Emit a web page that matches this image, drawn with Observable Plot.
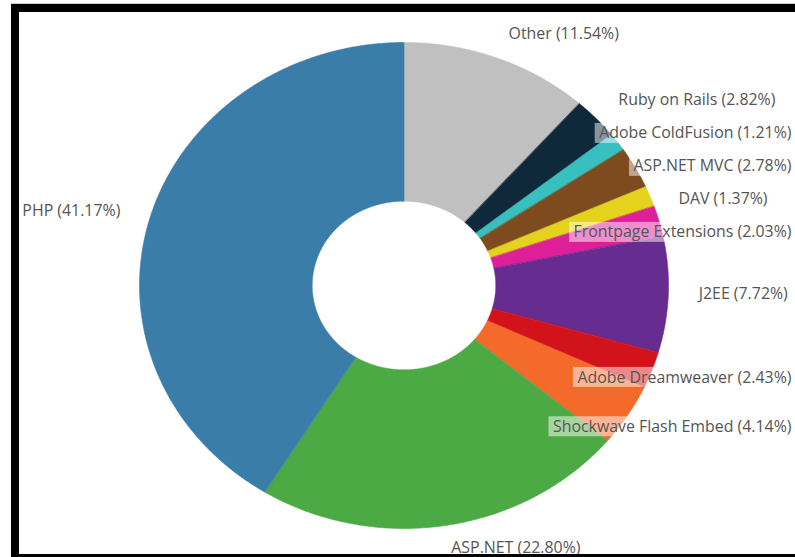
<!DOCTYPE html>
<html>
<head>
<meta charset="utf-8">
<script src="https://cdn.jsdelivr.net/npm/d3@7"></script>
<script src="https://cdn.jsdelivr.net/npm/@observablehq/plot@0.6"></script>
<style>
  html, body { margin: 0; padding: 0; background: #fff; overflow: hidden; }
  #wrap { position: relative; width: 795px; height: 557px; }
  #frame { position: absolute; left: 11px; top: 4px; width: 800px; height: 542px;
           border-top: 8px solid #000; border-left: 8px solid #000; border-bottom: 8px solid #000;
           box-shadow: 0 -1px 0 #ccc; pointer-events: none; }
  #chart { position: absolute; left: 0; top: 0; }
</style>
</head>
<body>
<div id="wrap"><div id="chart"></div><div id="frame"></div></div>
<script>
// ---- data ----
const names = ["Other", "Ruby on Rails", "Adobe ColdFusion", "ASP.NET MVC", "DAV",
  "Frontpage Extensions", "J2EE", "Adobe Dreamweaver", "Shockwave Flash Embed", "ASP.NET", "PHP"];
const shares = [11.54, 2.82, 1.21, 2.78, 1.37, 2.03, 7.72, 2.43, 4.14, 22.80, 41.17];
const colors = ["#c0c0c0", "#10293a", "#38c0c0", "#7d4b1e", "#e3d31c",
  "#dd1f98", "#662c90", "#d3131b", "#f36a2a", "#4caa45", "#3b7da9"];

// ---- layout ----
const W = 795, H = 557;
const cx = 403.5, cy = 285, rx = 264.5, ry = 243;
const inner = 0.347;
const labelRX = 1.115, labelRY = 1.1, labelDY = -1.5;
const gap = 33, rightEdge = 791;
const fontSize = 15.9, fontFamily = "Open Sans";

const total = d3.sum(shares);
const ctx = document.createElement("canvas").getContext("2d");
ctx.font = `${fontSize}px "${fontFamily}"`;

// slice polygons (unit-circle data space)
const pts = [];
let cum = 0;
const slices = names.map((name, i) => {
  const a0 = cum / total * 2 * Math.PI;
  cum += shares[i];
  const a1 = cum / total * 2 * Math.PI;
  return {name, i, a0, a1, mid: (a0 + a1) / 2};
});
for (const s of slices) {
  const n = Math.max(2, Math.ceil((s.a1 - s.a0) / 0.005));
  for (let k = 0; k <= n; k++) {
    const a = s.a0 + (s.a1 - s.a0) * k / n;
    pts.push({name: s.name, x: Math.sin(a), y: Math.cos(a)});
  }
  for (let k = n; k >= 0; k--) {
    const a = s.a0 + (s.a1 - s.a0) * k / n;
    pts.push({name: s.name, x: inner * Math.sin(a), y: inner * Math.cos(a)});
  }
}

// scale helpers (mirror of the Plot scales below)
const xs = d3.scaleLinear().domain([-1, 1]).range([cx - rx, cx + rx]);
const ys = d3.scaleLinear().domain([-1, 1]).range([cy + ry, cy - ry]);

// labels
const labels = slices.map(s => {
  const text = `${s.name} (${shares[s.i].toFixed(2)}%)`;
  const w = ctx.measureText(text).width;
  const right = Math.sin(s.mid) >= 0;
  let px = cx + labelRX * rx * Math.sin(s.mid);
  let py = cy + labelDY - labelRY * ry * Math.cos(s.mid);
  return {text, w, right, px, py, name: s.name};
});
// vertical collision avoidance on the right side
let prev = -Infinity;
for (const l of labels) {
  if (!l.right) continue;
  if (l.py < prev + gap) l.py = prev + gap;
  prev = l.py;
}
for (const l of labels) {
  if (l.right) {
    l.px = Math.min(l.px, rightEdge - l.w);
    l.x0 = l.px; l.x1 = l.px + l.w;
  } else {
    l.x0 = l.px - l.w; l.x1 = l.px;
  }
  l.lx = xs.invert(l.px); l.ly = ys.invert(l.py);
  l.bx1 = xs.invert(l.x0 - 4); l.bx2 = xs.invert(l.x1 + 4);
  l.by1 = ys.invert(l.py - 10); l.by2 = ys.invert(l.py + 10);
}
const rightLabels = labels.filter(l => l.right);
const leftLabels = labels.filter(l => !l.right);

const chart = Plot.plot({
  width: W, height: H,
  marginTop: 0, marginRight: 0, marginBottom: 0, marginLeft: 0,
  x: {domain: [-1, 1], range: [cx - rx, cx + rx], axis: null},
  y: {domain: [-1, 1], range: [cy + ry, cy - ry], axis: null},
  color: {domain: names, range: colors},
  style: {fontFamily: fontFamily, fontSize: fontSize + "px", background: "white"},
  marks: [
    Plot.line(pts, {x: "x", y: "y", z: "name", fill: "name", stroke: "name",
      strokeWidth: 0.6, curve: "linear-closed"}),
    Plot.rect(labels, {x1: "bx1", x2: "bx2", y1: "by1", y2: "by2", fill: "white", fillOpacity: 0.5}),
    Plot.text(rightLabels, {x: "lx", y: "ly", text: "text", textAnchor: "start",
      lineAnchor: "middle", fill: "#555", fontSize: fontSize}),
    Plot.text(leftLabels, {x: "lx", y: "ly", text: "text", textAnchor: "end",
      lineAnchor: "middle", fill: "#555", fontSize: fontSize})
  ]
});
document.getElementById("chart").appendChild(chart);
</script>
</body>
</html>
